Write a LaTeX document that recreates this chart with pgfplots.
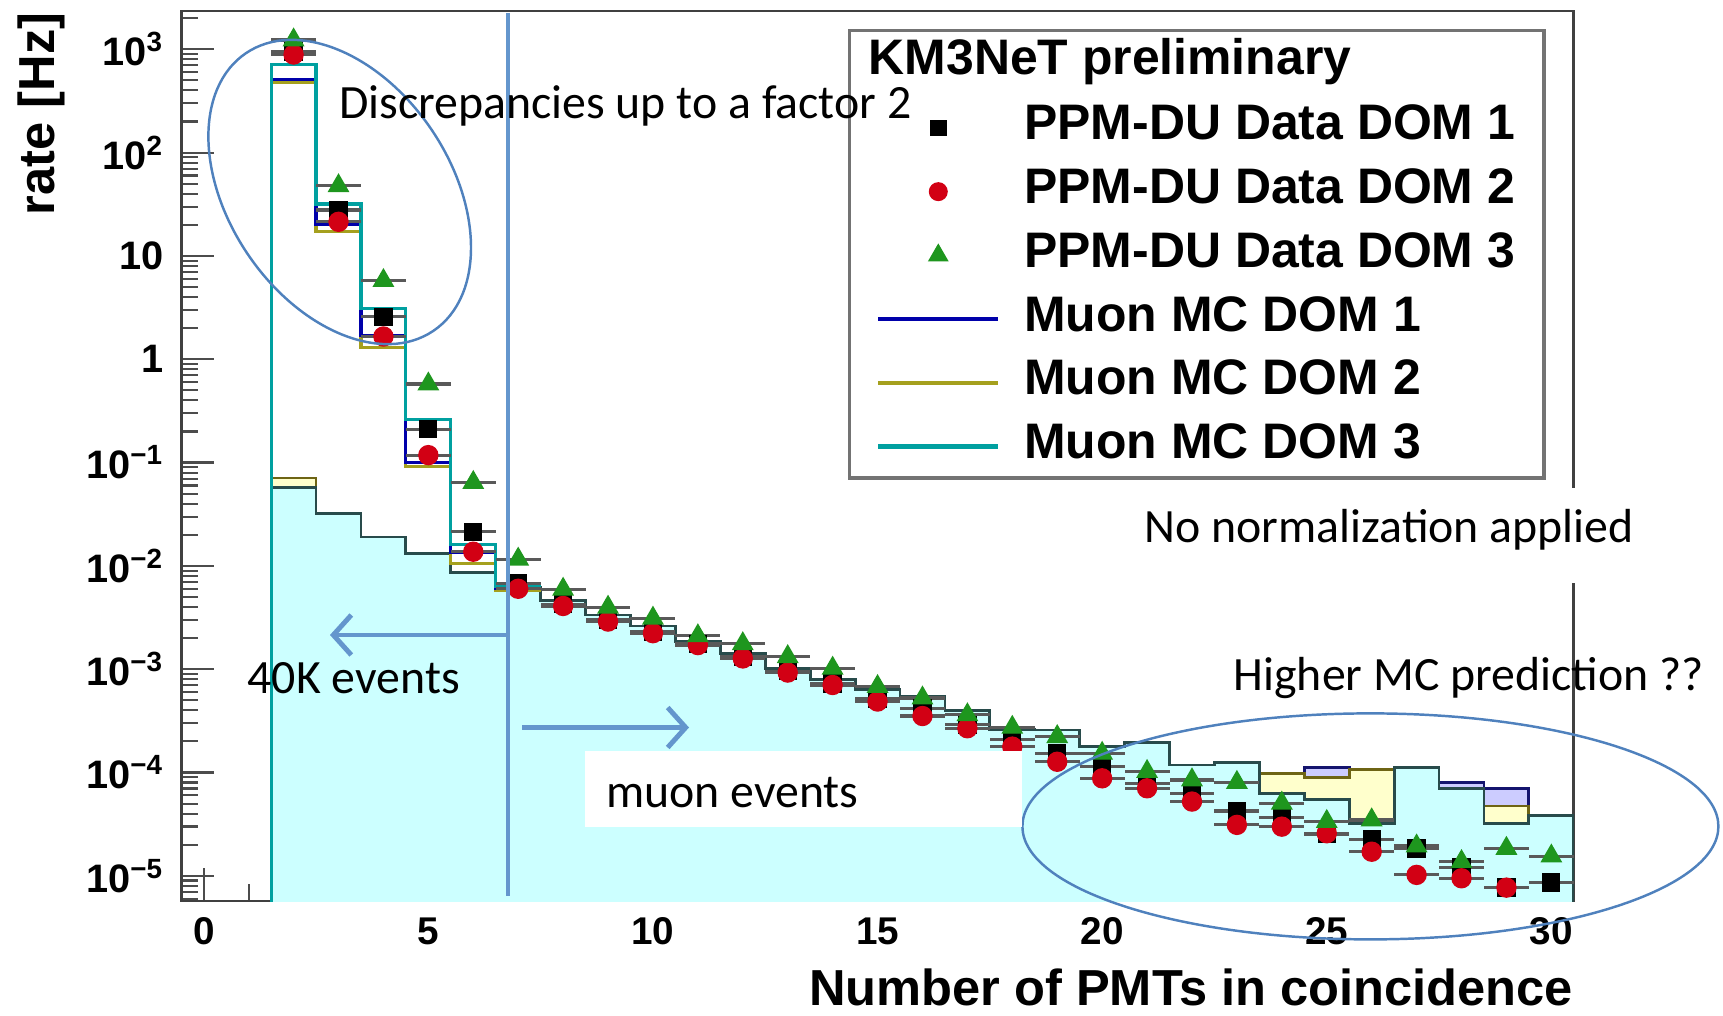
\documentclass[border=0pt]{standalone}
\usepackage{fontspec}
\setmainfont{Liberation Sans}
\newfontfamily\carlito{Carlito}
\usepackage{pgfplots}
\pgfplotsset{compat=1.18}
\usetikzlibrary{arrows.meta}

\definecolor{fillc}{RGB}{204,255,255}
\definecolor{filly}{RGB}{255,255,204}
\definecolor{fillp}{RGB}{204,204,255}
\definecolor{outc}{RGB}{40,75,75}
\definecolor{outy}{RGB}{110,100,20}
\definecolor{outp}{RGB}{20,20,110}
\definecolor{linec}{RGB}{0,160,160}
\definecolor{lineb}{RGB}{0,0,170}
\definecolor{lineo}{RGB}{165,160,30}
\definecolor{datared}{RGB}{210,0,20}
\definecolor{datagreen}{RGB}{30,150,30}
\definecolor{pptblue}{RGB}{79,129,189}
\definecolor{linblue}{RGB}{100,150,205}

% muon MC (filled), x = lower bin edge
\pgfplotstableread{
x y
1.5 1e-7
1.5 0.057
2.5 0.032
3.5 0.019
4.5 0.0131
5.5 0.0086
6.5 0.0062
7.5 0.00458
8.5 0.00334
9.5 0.00262
10.5 0.00185
11.5 0.00141
12.5 0.00102
13.5 0.00080
14.5 0.00064
15.5 0.00055
16.5 0.000397
17.5 0.000262
18.5 0.000258
19.5 0.000180
20.5 0.000194
21.5 0.000118
22.5 0.000125
23.5 6.3e-5
24.5 5.5e-5
25.5 3.22e-5
26.5 1.11e-4
27.5 7.03e-5
28.5 3.22e-5
29.5 3.82e-5
30.5 3.82e-5
30.5 1e-7
}\mcthree

\pgfplotstableread{
x y
1.5 1e-7
1.5 0.071
2.5 0.030
3.5 0.018
4.5 0.0124
5.5 0.0082
6.5 0.0059
7.5 0.00435
8.5 0.00317
9.5 0.00249
10.5 0.00176
11.5 0.00134
12.5 0.00097
13.5 0.00076
14.5 0.00061
15.5 0.00052
16.5 0.000377
17.5 0.000249
18.5 0.000245
19.5 0.000171
20.5 0.000184
21.5 0.000112
22.5 0.000119
23.5 9.84e-5
24.5 8.98e-5
25.5 1.06e-4
26.5 9.0e-5
27.5 6.5e-5
28.5 4.74e-5
29.5 3.0e-5
30.5 3.0e-5
30.5 1e-7
}\mctwo

\pgfplotstableread{
x y
1.5 1e-7
1.5 0.064
2.5 0.0294
3.5 0.0175
4.5 0.012
5.5 0.0079
6.5 0.0057
7.5 0.00421
8.5 0.00307
9.5 0.00241
10.5 0.0017
11.5 0.0013
12.5 0.00094
13.5 0.00074
14.5 0.00059
15.5 0.00051
16.5 0.000365
17.5 0.000241
18.5 0.000237
19.5 0.000166
20.5 0.000178
21.5 0.000109
22.5 0.000115
23.5 9.7e-5
24.5 1.12e-4
25.5 1.0e-4
26.5 9.0e-5
27.5 7.98e-5
28.5 7.03e-5
29.5 3.0e-5
30.5 3.0e-5
30.5 1e-7
}\mcone

% total MC (unfilled lines), low-multiplicity region
\pgfplotstableread{
x y
1.5 1e-7
1.5 717
2.5 31.8
3.5 3.1
4.5 0.26
5.5 0.016
6.5 0.0063
7.5 0.0063
}\totthree
\pgfplotstableread{
x y
1.5 1e-7
1.5 514
2.5 20.2
3.5 1.7
4.5 0.10
5.5 0.0136
6.5 0.0060
7.5 0.0060
}\totone
\pgfplotstableread{
x y
1.5 1e-7
1.5 478
2.5 17.1
3.5 1.3
4.5 0.091
5.5 0.0105
6.5 0.0058
7.5 0.0058
}\tottwo

% data
\pgfplotstableread{
x y
2 950
3 27.8
4 2.57
5 0.21
6 0.0214
7 0.0068
8 0.00424
9 0.00301
10 0.0023
11 0.00176
12 0.00131
13 0.000953
14 0.000727
15 0.000517
16 0.000418
17 0.000289
18 0.000207
19 0.000153
20 0.000114
21 7.87e-5
22 6.3e-5
23 4.24e-5
24 3.65e-5
25 2.52e-5
26 2.25e-5
27 1.84e-5
28 1.21e-5
29 7.7e-6
30 8.6e-6
}\dataone
\pgfplotstableread{
x y
2 890
3 21.4
4 1.66
5 0.118
6 0.0137
7 0.0060
8 0.00409
9 0.00289
10 0.00223
11 0.00171
12 0.00127
13 0.000927
14 0.000703
15 0.000486
16 0.000352
17 0.000268
18 0.000178
19 0.000127
20 8.78e-5
21 7.03e-5
22 5.23e-5
23 3.11e-5
24 2.99e-5
25 2.58e-5
26 1.71e-5
27 1.02e-5
28 9.46e-6
29 7.68e-6
}\datatwo
\pgfplotstableread{
x y
2 1230
3 47.7
4 5.77
5 0.575
6 0.064
7 0.0116
8 0.00593
9 0.00397
10 0.00311
11 0.0021
12 0.00176
13 0.00132
14 0.00102
15 0.000678
16 0.000525
17 0.000361
18 0.000273
19 0.000222
20 0.000153
21 0.000102
22 8.47e-5
23 8.0e-5
24 5.04e-5
25 3.35e-5
26 3.47e-5
27 1.94e-5
28 1.37e-5
29 1.84e-5
30 1.55e-5
}\datathree

\begin{document}
\begin{tikzpicture}
\useasboundingbox (-1.813,-1.15) rectangle (15.417,9.01);
\begin{axis}[
  at={(0,0)}, anchor=south west,
  scale only axis, width=13.925cm, height=8.9cm,
  xmin=-0.5, xmax=30.5,
  ymode=log, ymin=5.7e-6, ymax=2350,
  xtick={0,5,10,15,20,25,30},
  xticklabels={0,5,10,15,20,25,30},
  minor x tick num=4,
  ytick={1e-5,1e-4,1e-3,1e-2,1e-1,1,10,100,1000},
  yticklabels={10\textsuperscript{−5},10\textsuperscript{−4},10\textsuperscript{−3},10\textsuperscript{−2},10\textsuperscript{−1},1,10,10\textsuperscript{2},10\textsuperscript{3}},
  minor ytick={6e-6,7e-6,8e-6,9e-6,
    2e-5,3e-5,4e-5,5e-5,6e-5,7e-5,8e-5,9e-5,
    2e-4,3e-4,4e-4,5e-4,6e-4,7e-4,8e-4,9e-4,
    2e-3,3e-3,4e-3,5e-3,6e-3,7e-3,8e-3,9e-3,
    2e-2,3e-2,4e-2,5e-2,6e-2,7e-2,8e-2,9e-2,
    0.2,0.3,0.4,0.5,0.6,0.7,0.8,0.9,
    2,3,4,5,6,7,8,9,
    20,30,40,50,60,70,80,90,
    200,300,400,500,600,700,800,900,2000},
  tick align=inside, xtick pos=bottom, ytick pos=left,
  major tick length=0.33cm, minor tick length=0.17cm,
  every tick/.style={draw=black!70, line width=0.6pt},
  axis line style={draw=black!75, line width=0.8pt},
  yticklabel style={font=\bfseries\fontsize{11.3}{11.3}\selectfont, xshift=-0.05cm},
  xticklabel style={font=\bfseries\fontsize{11}{11}\selectfont, yshift=-0.04cm},
  legend image code/.code={\draw[mark repeat=2,mark phase=2,#1] plot coordinates {(0cm,0cm) (0.6cm,0cm) (1.2cm,0cm)};},
  legend style={at={(axis description cs:0.4985,0.8941)}, anchor=north west,
    draw=none, fill=none, font=\bfseries\fontsize{14.2}{14.2}\selectfont,
    row sep=0.197cm, column sep=0.24cm, inner sep=0pt,
    nodes={inner sep=0pt, text height=0.34cm, text depth=0.1cm}},
  legend cell align=left,
]
% filled muon MC
\addplot[const plot, fill=fillp, draw=outp, line width=0.8pt, forget plot] table {\mcone} -- cycle;
\addplot[const plot, fill=filly, draw=outy, line width=0.8pt, forget plot] table {\mctwo} -- cycle;
\addplot[const plot, fill=fillc, draw=outc, line width=0.8pt, forget plot] table {\mcthree} -- cycle;
% totals
\addplot[const plot, draw=lineo, line width=0.9pt, forget plot] table {\tottwo};
\addplot[const plot, draw=lineb, line width=0.9pt, forget plot] table {\totone};
\addplot[const plot, draw=linec, line width=0.9pt, forget plot] table {\totthree};
% data
\addplot[only marks, mark=square*, mark size=2.4pt, black, forget plot,
  error bars/.cd, x dir=both, x fixed=0.5, error mark=none,
  error bar style={line width=0.9pt, draw=black!65}] table {\dataone};
\addplot[only marks, mark=*, mark size=2.7pt, datared, forget plot,
  error bars/.cd, x dir=both, x fixed=0.5, error mark=none,
  error bar style={line width=0.9pt, draw=black!65}] table {\datatwo};
\addplot[only marks, mark=triangle*, mark size=3.2pt, datagreen, forget plot,
  error bars/.cd, x dir=both, x fixed=0.5, error mark=none,
  error bar style={line width=0.9pt, draw=black!65}] table {\datathree};
% legend box
\draw[draw=black!55, line width=0.9pt, fill=white] (axis description cs:0.4798,0.9778) rectangle (axis description cs:0.9786,0.4753);
\addlegendimage{only marks, mark=square*, mark size=2.2pt, black}
\addlegendentry{PPM-DU Data DOM 1}
\addlegendimage{only marks, mark=*, mark size=2.5pt, datared}
\addlegendentry{PPM-DU Data DOM 2}
\addlegendimage{only marks, mark=triangle*, mark size=3.0pt, datagreen}
\addlegendentry{PPM-DU Data DOM 3}
\addlegendimage{no marks, lineb, line width=1.2pt}
\addlegendentry{Muon MC DOM 1}
\addlegendimage{no marks, lineo, line width=1.2pt}
\addlegendentry{Muon MC DOM 2}
\addlegendimage{no marks, linec, line width=1.2pt}
\addlegendentry{Muon MC DOM 3}
\end{axis}
% legend title and axis labels
\node[anchor=west, inner sep=0pt, font=\bfseries\fontsize{14.2}{14.2}\selectfont] at (6.867,8.39) {KM3NeT preliminary};
\node[anchor=east, inner sep=0pt, font=\bfseries\fontsize{14.4}{14.4}\selectfont] at (13.925,-0.86) {Number of PMTs in coincidence};
\node[anchor=east, rotate=90, inner sep=0pt, font=\bfseries\fontsize{14.4}{14.4}\selectfont] at (-1.395,8.89) {rate [Hz]};
% annotations
\draw[pptblue, line width=0.7pt, rotate around={-56:(1.584,7.09)}] (1.584,7.09) ellipse (1.675cm and 1.11cm);
\draw[pptblue, line width=0.7pt] (11.891,0.746) ellipse (3.48cm and 1.13cm);
\draw[linblue, line width=1.4pt] (3.267,8.88) -- (3.267,0.05);
\draw[linblue, line width=1.4pt, -{Straight Barb[length=1.8mm, width=4mm]}] (3.267,2.66) -- (1.487,2.66);
\draw[linblue, line width=1.4pt, -{Straight Barb[length=1.8mm, width=4mm]}] (3.407,1.735) -- (5.077,1.735);
\fill[white] (4.033,1.504) rectangle (8.407,0.735);
\fill[white] (9.487,4.13) rectangle (14.687,3.18);
\begin{scope}[every node/.style={anchor=west, inner sep=0pt, font=\carlito\fontsize{13.6}{14}\selectfont}]
\node at (1.572,7.955) {Discrepancies up to a factor 2};
\node at (0.657,2.23) {40K events};
\node at (4.242,1.087) {muon events};
\node at (9.627,3.713) {No normalization applied};
\node at (10.517,2.23) {Higher MC prediction ??};
\end{scope}
\end{tikzpicture}
\end{document}
